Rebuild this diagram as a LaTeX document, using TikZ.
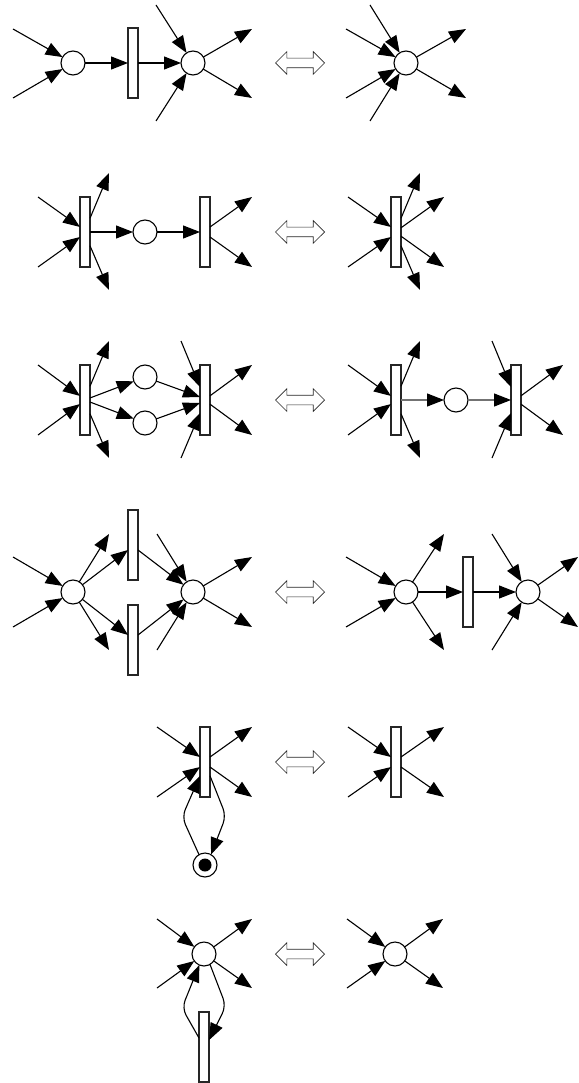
\documentclass[tikz,border=0pt]{standalone}
\usetikzlibrary{arrows.meta,shapes.arrows}
\tikzset{
  x=1pt,y=-1pt,
  place/.style={circle,draw=black,fill=white,line width=1.1pt,minimum size=24pt,inner sep=0pt,outer sep=0pt},
  trans/.style={rectangle,draw=black!85,fill=white,line width=1.1pt,minimum width=10pt,minimum height=70pt,inner sep=0pt,outer sep=0pt},
  token/.style={circle,fill=black,minimum size=13pt,inner sep=0pt},
  arc/.style={line width=1.1pt,black,-{Triangle[length=17pt,width=13pt]}},
  greyarc/.style={line width=1.1pt,draw=black!55,-{Triangle[length=17pt,width=13pt,color=black]}},
  loop/.style={arc,rounded corners=8pt},
  equiv/.style={double arrow,draw=black!85,fill=white,line width=0.7pt,double arrow head extend=6.5pt,minimum height=49pt,inner xsep=0pt,inner ysep=4.5pt,outer sep=0pt}
}
\begin{document}
\begin{tikzpicture}
\useasboundingbox (0,0) rectangle (578,1083);
% ---- row 1
\node[place] (p1) at (73,63) {};
\node[trans] (t1) at (133,63) {};
\node[place] (p2) at (193,63) {};
\node[equiv] (e1) at (300,63) {};
\node[place] (p3) at (406,63) {};
\coordinate (a1) at (13,29); \coordinate (a2) at (13,98);
\coordinate (a3) at (156,5); \coordinate (a4) at (156,121);
\coordinate (a5) at (252,29); \coordinate (a6) at (252,98);
\coordinate (a7) at (346,29); \coordinate (a8) at (346,98);
\coordinate (a9) at (370,5); \coordinate (a10) at (370,121);
\coordinate (a11) at (466,29); \coordinate (a12) at (466,98);
\draw[arc] (a1) -- (p1); \draw[arc] (a2) -- (p1);
\draw[arc] (p1) -- (t1.west); \draw[arc] (t1.east) -- (p2);
\draw[arc] (a3) -- (p2); \draw[arc] (a4) -- (p2);
\draw[arc] (p2) -- (a5); \draw[arc] (p2) -- (a6);
\draw[arc] (a7) -- (p3); \draw[arc] (a8) -- (p3);
\draw[arc] (a9) -- (p3); \draw[arc] (a10) -- (p3);
\draw[arc] (p3) -- (a11); \draw[arc] (p3) -- (a12);
% ---- row 2
\node[trans] (t2) at (85,232) {};
\node[place] (p4) at (145,232) {};
\node[trans] (t3) at (205,232) {};
\node[equiv] (e2) at (300,232) {};
\node[trans] (t4) at (396,232) {};
\coordinate (b1) at (38,197); \coordinate (b2) at (38,267);
\coordinate (b3) at (109,173); \coordinate (b4) at (109,290);
\coordinate (b5) at (252,197); \coordinate (b6) at (252,267);
\coordinate (b7) at (348,197); \coordinate (b8) at (348,267);
\coordinate (b9) at (420,173); \coordinate (b10) at (420,290);
\coordinate (b11) at (444,197); \coordinate (b12) at (444,267);
\draw[arc] (b1) -- (t2.135); \draw[arc] (b2) -- (t2.225);
\draw[arc] (t2.70) -- (b3); \draw[arc] (t2.-70) -- (b4);
\draw[arc] (t2.east) -- (p4); \draw[arc] (p4) -- (t3.west);
\draw[arc] (t3.45) -- (b5); \draw[arc] (t3.-45) -- (b6);
\draw[arc] (b7) -- (t4.135); \draw[arc] (b8) -- (t4.225);
\draw[arc] (t4.70) -- (b9); \draw[arc] (t4.-70) -- (b10);
\draw[arc] (t4.40) -- (b11); \draw[arc] (t4.-40) -- (b12);
% ---- row 3
\node[trans] (t5) at (85,400) {};
\node[place] (p5) at (145,377) {};
\node[place] (p6) at (145,423) {};
\node[trans] (t6) at (205,400) {};
\node[equiv] (e3) at (300,400) {};
\node[trans] (t7) at (396,400) {};
\node[place] (p7) at (456,400) {};
\node[trans] (t8) at (516,400) {};
\coordinate (c1) at (38,365); \coordinate (c2) at (38,435);
\coordinate (c3) at (109,341); \coordinate (c4) at (109,458);
\coordinate (c5) at (181,341); \coordinate (c6) at (181,458);
\coordinate (c7) at (252,365); \coordinate (c8) at (252,435);
\coordinate (c9) at (348,365); \coordinate (c10) at (348,435);
\coordinate (c11) at (420,341); \coordinate (c12) at (420,458);
\coordinate (c13) at (492,341); \coordinate (c14) at (492,458);
\coordinate (c15) at (563,365); \coordinate (c16) at (563,435);
\draw[arc] (c1) -- (t5.141); \draw[arc] (c2) -- (t5.219);
\draw[arc] (t5.70) -- (c3); \draw[arc] (t5.-70) -- (c4);
\draw[arc] (t5.22) -- (p5); \draw[arc] (t5.-22) -- (p6);
\draw[arc] (p5) -- (t6.149); \draw[arc] (p6) -- (t6.211);
\draw[arc] (c5) -- (t6.111); \draw[arc] (c6) -- (t6.249);
\draw[arc] (t6.40) -- (c7); \draw[arc] (t6.-40) -- (c8);
\draw[arc] (c9) -- (t7.141); \draw[arc] (c10) -- (t7.219);
\draw[arc] (t7.70) -- (c11); \draw[arc] (t7.-70) -- (c12);
\draw[greyarc] (t7.east) -- (p7); \draw[greyarc] (p7) -- (t8.west);
\draw[arc] (c13) -- (t8.111); \draw[arc] (c14) -- (t8.249);
\draw[arc] (t8.40) -- (c15); \draw[arc] (t8.-40) -- (c16);
% ---- row 4
\node[place] (p8) at (73,592) {};
\node[trans] (t9) at (133,545) {};
\node[trans] (t10) at (133,640) {};
\node[place] (p9) at (193,592) {};
\node[equiv] (e4) at (300,592) {};
\node[place] (p10) at (406,592) {};
\node[trans] (t11) at (468,592) {};
\node[place] (p11) at (528,592) {};
\coordinate (d1) at (13,557); \coordinate (d2) at (13,627);
\coordinate (d3) at (109,534); \coordinate (d4) at (109,650);
\coordinate (d5) at (157,534); \coordinate (d6) at (157,650);
\coordinate (d7) at (252,557); \coordinate (d8) at (252,627);
\coordinate (d9) at (346,557); \coordinate (d10) at (346,627);
\coordinate (d11) at (444,534); \coordinate (d12) at (444,650);
\coordinate (d13) at (492,534); \coordinate (d14) at (492,650);
\coordinate (d15) at (578,557); \coordinate (d16) at (578,627);
\draw[arc] (d1) -- (p8); \draw[arc] (d2) -- (p8);
\draw[arc] (p8) -- (d3); \draw[arc] (p8) -- (d4);
\draw[arc] (p8) -- (t9.225); \draw[arc] (p8) -- (t10.135);
\draw[arc] (t9.-45) -- (p9); \draw[arc] (t10.45) -- (p9);
\draw[arc] (d5) -- (p9); \draw[arc] (d6) -- (p9);
\draw[arc] (p9) -- (d7); \draw[arc] (p9) -- (d8);
\draw[arc] (d9) -- (p10); \draw[arc] (d10) -- (p10);
\draw[arc] (p10) -- (d11); \draw[arc] (p10) -- (d12);
\draw[arc] (p10) -- (t11.west); \draw[arc] (t11.east) -- (p11);
\draw[arc] (d13) -- (p11); \draw[arc] (d14) -- (p11);
\draw[arc] (p11) -- (d15); \draw[arc] (p11) -- (d16);
% ---- row 5
\node[trans] (t12) at (205,762) {};
\node[place] (p12) at (205,865) {};
\node[token] (k1) at (205,865) {};
\node[equiv] (e5) at (300,762) {};
\node[trans] (t13) at (396,762) {};
\coordinate (f1) at (157,727); \coordinate (f2) at (157,797);
\coordinate (f3) at (252,727); \coordinate (f4) at (252,797);
\coordinate (f5) at (182,817); \coordinate (f6) at (226,816);
\coordinate (f7) at (348,727); \coordinate (f8) at (348,797);
\coordinate (f9) at (444,727); \coordinate (f10) at (444,797);
\draw[arc] (f1) -- (t12.135); \draw[arc] (f2) -- (t12.225);
\draw[arc] (t12.45) -- (f3); \draw[arc] (t12.-45) -- (f4);
\draw[loop] (p12.120) -- (f5) -- (t12.250);
\draw[loop] (t12.-70) -- (f6) -- (p12.60);
\draw[arc] (f7) -- (t13.135); \draw[arc] (f8) -- (t13.225);
\draw[arc] (t13.45) -- (f9); \draw[arc] (t13.-45) -- (f10);
% ---- row 6
\node[place] (p13) at (204,954) {};
\node[trans] (t14) at (204,1047) {};
\node[equiv] (e6) at (300,954) {};
\node[place] (p14) at (395,954) {};
\coordinate (g1) at (157,919); \coordinate (g2) at (157,988);
\coordinate (g3) at (252,919); \coordinate (g4) at (252,988);
\coordinate (g5) at (182,1008); \coordinate (g6) at (226,1006);
\coordinate (g7) at (347,919); \coordinate (g8) at (347,988);
\coordinate (g9) at (443,919); \coordinate (g10) at (443,988);
\draw[arc] (g1) -- (p13); \draw[arc] (g2) -- (p13);
\draw[arc] (p13) -- (g3); \draw[arc] (p13) -- (g4);
\draw[loop] (t14.119) -- (g5) -- (p13.247);
\draw[loop] (p13.-60) -- (g6) -- (t14.54);
\draw[arc] (g7) -- (p14); \draw[arc] (g8) -- (p14);
\draw[arc] (p14) -- (g9); \draw[arc] (p14) -- (g10);
\end{tikzpicture}
\end{document}
